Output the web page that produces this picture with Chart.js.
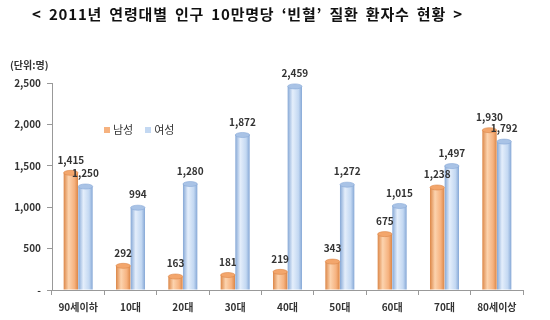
<!DOCTYPE html>
<html>
<head>
<meta charset="utf-8">
<script src="https://cdn.jsdelivr.net/npm/chart.js@4.4.1/dist/chart.umd.min.js"></script>
<style>
  body { margin:0; background:#fff; font-family:'Noto Sans CJK KR', sans-serif; }
  #wrap { position:relative; width:550px; height:320px; }
  #title { position:absolute; left:0; width:495px; top:3px; text-align:center; font-weight:bold; font-size:15px; color:#111; letter-spacing:0.8px; word-spacing:3px; }
  #unit { position:absolute; left:10px; top:57px; font-size:10px; color:#333; font-weight:bold; }
  #legend { position:absolute; left:104px; top:121px; font-size:11px; color:#333; }
  #legend span.sw { display:inline-block; width:6px; height:6px; margin-right:3px; vertical-align:1px; }
  #legend span.it { margin-right:12px; }
</style>
</head>
<body>
<div id="wrap">
  <div id="title">&lt; 2011년 연령대별 인구 10만명당 ‘빈혈’ 질환 환자수 현황 &gt;</div>
  <div id="unit">(단위:명)</div>
  <div id="legend"></div>
  <canvas id="chart" width="550" height="320"></canvas>
</div>
<script>
// ── Data ──────────────────────────────────────────────────
const categories = ['90세이하','10대','20대','30대','40대','50대','60대','70대','80세이상'];
const male   = [1415, 292, 163, 181, 219, 343, 675, 1238, 1930];
const female = [1250, 994, 1280, 1872, 2459, 1272, 1015, 1497, 1792];
const seriesNames = ['남성','여성'];
const yTicks = [0, 500, 1000, 1500, 2000, 2500];

// colours per series
const palette = [
  { base:'#F6B27F', edge:'#DC8748', light:'#FCD3AE', top:'#F3A66C' },
  { base:'#C3D8F2', edge:'#86A8D6', light:'#E4EEFB', top:'#A9C3E6' }
];

const fmt = n => n === 0 ? '-' : n.toLocaleString('en-US');

// ── Legend (html) ─────────────────────────────────────────
document.getElementById('legend').innerHTML = seriesNames.map((s,i) =>
  `<span class="it"><span class="sw" style="background:${palette[i].base}"></span>${s}</span>`).join('');

// ── Plugins ───────────────────────────────────────────────
// cylinder look: horizontal gradient per bar + elliptical cap
const cylinder = {
  id:'cylinder',
  beforeDatasetsDraw(chart) {
    const c = chart.ctx;
    chart.data.datasets.forEach((ds, di) => {
      const p = palette[di];
      chart.getDatasetMeta(di).data.forEach(el => {
        const g = c.createLinearGradient(el.x - el.width/2, 0, el.x + el.width/2, 0);
        g.addColorStop(0, p.edge);
        g.addColorStop(0.35, p.light);
        g.addColorStop(0.75, p.base);
        g.addColorStop(1, p.edge);
        el.options = Object.assign({}, el.options, { backgroundColor: g });
      });
    });
  },
  afterDatasetsDraw(chart) {
    const c = chart.ctx;
    c.save();
    chart.data.datasets.forEach((ds, di) => {
      const p = palette[di];
      chart.getDatasetMeta(di).data.forEach(el => {
        c.beginPath();
        c.ellipse(el.x, el.y, el.width/2, 2.5, 0, 0, Math.PI*2);
        c.fillStyle = p.top;
        c.fill();
        c.strokeStyle = p.edge;
        c.lineWidth = 0.6;
        c.stroke();
      });
    });
    c.restore();
  }
};

const valueLabels = {
  id:'valueLabels',
  afterDatasetsDraw(chart) {
    const c = chart.ctx;
    c.save();
    c.font = 'bold 10px "Noto Sans CJK KR", sans-serif';
    c.fillStyle = '#333';
    c.textAlign = 'center';
    c.textBaseline = 'bottom';
    chart.data.datasets.forEach((ds, di) => {
      chart.getDatasetMeta(di).data.forEach((el, i) => {
        c.fillText(fmt(ds.data[i]), el.x, el.y - 8);
      });
    });
    c.restore();
  }
};

// ── Chart ─────────────────────────────────────────────────
new Chart(document.getElementById('chart'), {
  type:'bar',
  data:{
    labels: categories,
    datasets:[
      { label:seriesNames[0], data:male, backgroundColor:() => palette[0].base },
      { label:seriesNames[1], data:female, backgroundColor:() => palette[1].base }
    ]
  },
  options:{
    responsive:false,
    animation:false,
    categoryPercentage:0.56,
    barPercentage:0.98,
    layout:{ padding:{ top:83, right:27, left:0, bottom:0 } },
    plugins:{ legend:{display:false}, tooltip:{enabled:false} },
    scales:{
      x:{
        grid:{ offset:true, drawOnChartArea:false, tickLength:5, color:'#999' },
        border:{ color:'#999' },
        ticks:{ color:'#333', padding:6, font:{ size:10, weight:'bold', family:'"Noto Sans CJK KR", sans-serif' } },
        afterFit: s => { s.height = 30; }
      },
      y:{
        min:0, max:2500,
        afterBuildTicks: s => { s.ticks = yTicks.map(v => ({value:v})); },
        grid:{ drawOnChartArea:false, tickLength:5, color:'#999' },
        border:{ color:'#999' },
        ticks:{ color:'#333', padding:6, callback:v => fmt(v), font:{ size:10, weight:'bold', family:'"Noto Sans CJK KR", sans-serif' } },
        afterFit: s => { s.width = 52; }
      }
    }
  },
  plugins:[cylinder, valueLabels]
});
</script>
</body>
</html>
